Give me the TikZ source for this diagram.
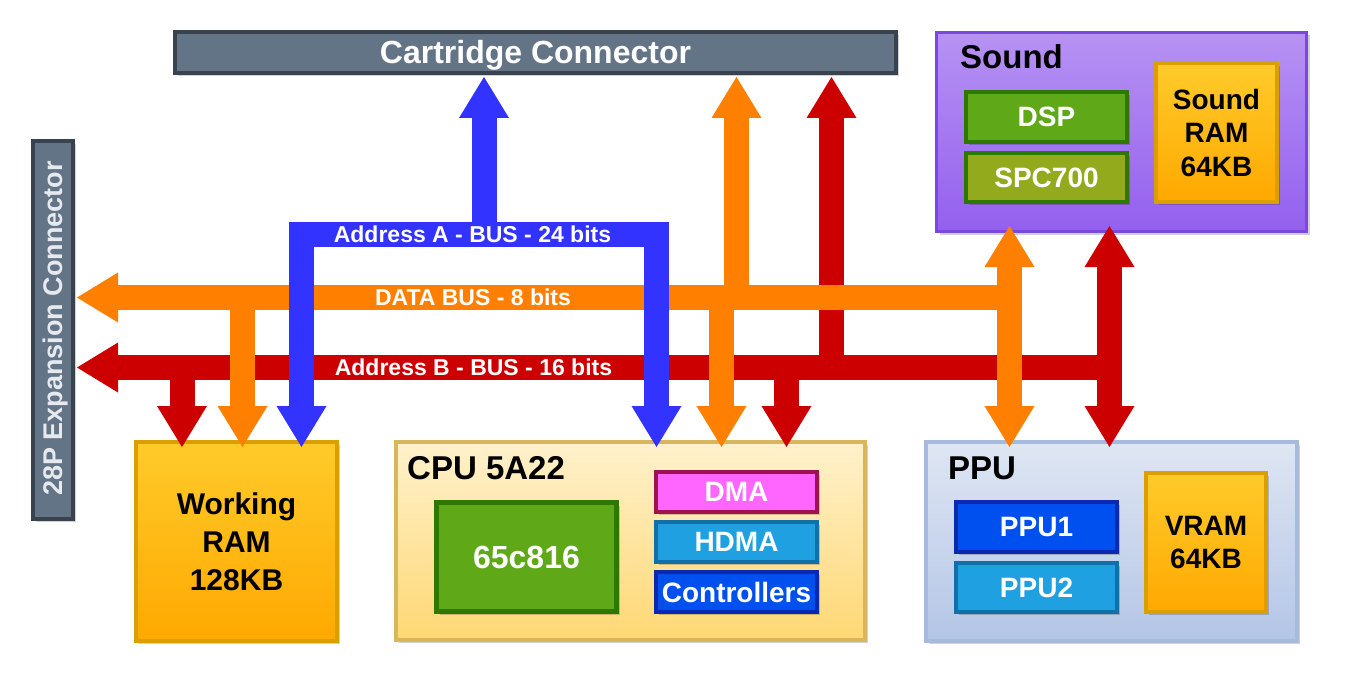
\documentclass[tikz,border=0pt]{standalone}
\usepackage{fontspec}
\setmainfont{Liberation Sans}
\usetikzlibrary{arrows.meta,shadows}
\definecolor{busblue}{HTML}{3333FF}
\definecolor{busorange}{HTML}{FF8000}
\definecolor{busred}{HTML}{CC0000}
\definecolor{connfill}{HTML}{637486}
\definecolor{conndraw}{HTML}{39434F}
\definecolor{conntext}{HTML}{E6EAF0}
\definecolor{sndtop}{HTML}{B792F3}
\definecolor{sndbot}{HTML}{9360EE}
\definecolor{snddraw}{HTML}{7A46E4}
\definecolor{ramtop}{HTML}{FFCB2A}
\definecolor{rambot}{HTML}{FFA800}
\definecolor{ramdraw}{HTML}{DBA000}
\definecolor{cputop}{HTML}{FFF1CC}
\definecolor{cpubot}{HTML}{FFD874}
\definecolor{cpudraw}{HTML}{D9B65C}
\definecolor{pputop}{HTML}{DFE6F3}
\definecolor{ppubot}{HTML}{B3C5E6}
\definecolor{ppudraw}{HTML}{A6BADB}
\definecolor{grnfill}{HTML}{5FA818}
\definecolor{grndraw}{HTML}{2E7800}
\definecolor{olvfill}{HTML}{93AA1C}
\definecolor{dmafill}{HTML}{FF66FF}
\definecolor{dmadraw}{HTML}{A0124E}
\definecolor{cyanfill}{HTML}{1FA0E0}
\definecolor{cyandraw}{HTML}{1070AA}
\definecolor{bluefill}{HTML}{0050F0}
\definecolor{bluedraw}{HTML}{0A28B0}
\begin{document}
\begin{tikzpicture}[x=1pt,y=-1pt,
  box/.style={draw, line width=4pt, inner sep=0pt, rectangle, align=center,
    drop shadow={shadow xshift=3pt,shadow yshift=-3pt,opacity=.18,fill=black}},
  inbox/.style={box, text=white, font=\bfseries\fontsize{28}{33}\selectfont},
  rambox/.style={box, draw=ramdraw, top color=ramtop, bottom color=rambot, text=black},
  title/.style={anchor=base west, inner sep=0pt, font=\bfseries\fontsize{33}{38}\selectfont},
  bus/.style={line width=25pt, line cap=butt, line join=miter},
  bustip/.style={-{Triangle[width=50pt,length=41pt,line width=0pt]}},
  bustipb/.style={{Triangle[width=50pt,length=41pt,line width=0pt]}-{Triangle[width=50pt,length=41pt,line width=0pt]}},
  buslabel/.style={text=white, inner sep=0pt, text height=16.5pt, text depth=0pt,
    font=\bfseries\fontsize{23}{27}\selectfont}
]
\fill[white] (0,0) rectangle (1345,682);
\useasboundingbox (0,0) rectangle (1345,682);

% connectors
\node[box, draw=conndraw, fill=connfill, minimum width=721pt, minimum height=41pt,
  text=white, text height=23pt, text depth=0pt, font=\bfseries\fontsize{32}{38}\selectfont]
  (cart) at (535.5,52.5) {Cartridge Connector};
\node[box, draw=conndraw, fill=connfill, minimum width=40pt, minimum height=378pt]
  (exp) at (53,330) {};
\node[rotate=90, text=conntext, inner sep=0pt, text height=19.3pt, text depth=0pt,
  font=\bfseries\fontsize{27}{32}\selectfont] (expText) at (53,328.5) {28P Expansion Connector};

% sound
\node[box, draw=snddraw, line width=3pt, top color=sndtop, bottom color=sndbot,
  minimum width=370pt, minimum height=199pt] (sound) at (1121.5,132) {};
\node[title] (soundTitle) at (960,69) {Sound};
\node[inbox, draw=grndraw, fill=grnfill, minimum width=161pt, minimum height=50pt] (dsp) at (1046.5,117) {DSP};
\node[inbox, draw=grndraw, fill=olvfill, minimum width=161pt, minimum height=49pt] (spc) at (1046.5,177.5) {SPC700};
\node[rambox, minimum width=121pt, minimum height=139pt, font=\bfseries\fontsize{28}{33.5}\selectfont]
  (sram) at (1216.5,132.5) {Sound\\RAM\\64KB};

% working RAM
\node[rambox, minimum width=201pt, minimum height=199pt, font=\bfseries\fontsize{30}{38}\selectfont]
  (wram) at (236.5,541.5) {Working\\RAM\\128KB};

% CPU
\node[box, draw=cpudraw, top color=cputop, bottom color=cpubot,
  minimum width=469pt, minimum height=198pt] (cpu) at (630.5,541) {};
\node[title] (cpuTitle) at (407,479) {CPU 5A22};
\node[inbox, draw=grndraw, line width=5pt, fill=grnfill, minimum width=180pt, minimum height=109pt,
  font=\bfseries\fontsize{32}{38}\selectfont] (core) at (526.5,557) {65c816};
\node[inbox, draw=dmadraw, fill=dmafill, minimum width=161pt, minimum height=40pt] (dma) at (736.5,492) {DMA};
\node[inbox, draw=cyandraw, fill=cyanfill, minimum width=161pt, minimum height=40pt] (hdma) at (736.5,542) {HDMA};
\node[inbox, draw=bluedraw, fill=bluefill, minimum width=161pt, minimum height=40pt] (ctrl) at (736.5,592) {Controllers};

% PPU
\node[box, draw=ppudraw, top color=pputop, bottom color=ppubot,
  minimum width=371pt, minimum height=199pt] (ppu) at (1111.5,541.5) {};
\node[title] (ppuTitle) at (948,479) {PPU};
\node[inbox, draw=bluedraw, fill=bluefill, minimum width=161pt, minimum height=50pt] (ppu1) at (1036.5,527) {PPU1};
\node[inbox, draw=cyandraw, fill=cyanfill, minimum width=161pt, minimum height=49pt] (ppu2) at (1036.5,587.5) {PPU2};
\node[rambox, minimum width=120pt, minimum height=139pt, font=\bfseries\fontsize{28}{33}\selectfont]
  (vram) at (1206,542.5) {VRAM\\64KB};

% tip reference points
\coordinate (expR) at ([xshift=2pt]exp.east);
\coordinate (cartB) at ([yshift=-2pt]cart.south);
\coordinate (sndB) at ([yshift=7pt]sound.south);
\coordinate (ppuT) at ([yshift=-7pt]ppu.north);
\coordinate (cpuT) at ([yshift=-7pt]cpu.north);
\coordinate (wramT) at ([yshift=-7pt]wram.north);

% bus junctions
\coordinate (rJ) at (1109.5,367.5);
\coordinate (rU) at (831.5,367.5);
\coordinate (rC) at (786.5,367.5);
\coordinate (rW) at (182,367.5);
\coordinate (oJ) at (1009.5,297.5);
\coordinate (oU) at (736.5,297.5);
\coordinate (oC) at (721.5,297.5);
\coordinate (oW) at (242.5,297.5);
\coordinate (bL) at (301.5,234.5);
\coordinate (bR) at (656.5,234.5);
\coordinate (bU) at (484,234.5);

% Address B bus (red)
\draw[bus, busred, bustip] (rJ) -- (expR |- rJ);
\draw[bus, busred, bustipb] (sndB -| rJ) -- (ppuT -| rJ);
\draw[bus, busred, bustip] (rU) -- (cartB -| rU);
\draw[bus, busred, bustip] (rC) -- (cpuT -| rC);
\draw[bus, busred, bustip] (rW) -- (wramT -| rW);

% Data bus (orange)
\draw[bus, busorange, bustip] (oJ) -- (expR |- oJ);
\draw[bus, busorange, bustipb] (sndB -| oJ) -- (ppuT -| oJ);
\draw[bus, busorange, bustip] (oU) -- (cartB -| oU);
\draw[bus, busorange, bustip] (oC) -- (cpuT -| oC);
\draw[bus, busorange, bustip] (oW) -- (wramT -| oW);

% Address A bus (blue)
\draw[bus, busblue, bustipb] (wramT -| bL) -- (bL) -- (bR) -- (cpuT -| bR);
\draw[bus, busblue, bustip] (bU) -- (cartB -| bU);

% bus labels
\node[buslabel] (lblA) at (472.5,234.5) {Address A - BUS - 24 bits};
\node[buslabel] (lblD) at (473,297.5) {DATA BUS - 8 bits};
\node[buslabel] (lblB) at (473.5,367.5) {Address B - BUS - 16 bits};
\end{tikzpicture}
\end{document}
